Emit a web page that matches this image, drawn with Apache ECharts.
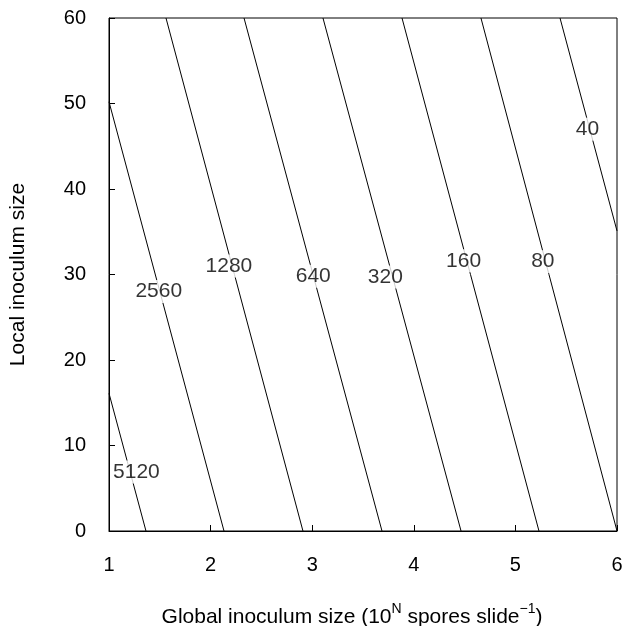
<!DOCTYPE html>
<html>
<head>
<meta charset="utf-8">
<script src="https://cdn.jsdelivr.net/npm/echarts@6/dist/echarts.min.js"></script>
<style>
  html, body { margin: 0; padding: 0; background: #fff; }
  #chart { width: 627px; height: 626px; }
</style>
</head>
<body>
<div id="chart"></div>
<script>
  // contour lines: start / end points
  var contourNames = ['5120', '2560', '1280', '640', '320', '160', '80', '40'];
  var startX = [1, 1, 1.561, 2.329, 3.106, 3.884, 4.661, 5.439];
  var startY = [16.1, 50.2, 60, 60, 60, 60, 60, 60];
  var endX = [1.364, 2.132, 2.909, 3.687, 4.465, 5.232, 6, 6];
  var endY = [0, 0, 0, 0, 0, 0, 0, 35.1];

  // label positions on each contour
  var labelX = [1.27, 1.49, 2.18, 3.01, 3.72, 4.49, 5.27, 5.71];
  var labelY = [6.9, 28.0, 31.0, 29.8, 29.7, 31.6, 31.5, 47.0];

  var xTicks = [1, 2, 3, 4, 5, 6];
  var yTicks = [0, 10, 20, 30, 40, 50, 60];

  var font = 'Liberation Sans, Arial, Helvetica, sans-serif';

  var series = [];
  for (var i = 0; i < contourNames.length; i++) {
    series.push({
      name: contourNames[i],
      type: 'line',
      symbol: 'none',
      silent: true,
      lineStyle: { color: '#000', width: 1 },
      data: [[startX[i], startY[i]], [endX[i], endY[i]]],
      z: 2
    });
  }
  // contour labels (white box cuts the line)
  series.push({
    type: 'scatter',
    symbolSize: 0,
    silent: true,
    z: 5,
    data: contourNames.map(function (n, i) {
      return { name: n, value: [labelX[i], labelY[i]] };
    }),
    label: {
      show: true,
      position: 'inside',
      formatter: '{b}',
      color: '#000',
      fontSize: 21,
      fontFamily: font,
      backgroundColor: '#fff',
      padding: [1, 1]
    }
  });

  var myChart = echarts.init(document.getElementById('chart'));
  var myOption = {
    animation: false,
    backgroundColor: '#fff',
    grid: {
      left: 109,
      right: 10,
      top: 18,
      bottom: 95,
      containLabel: false,
      outerBoundsMode: 'none',
      show: true,
      borderColor: '#000',
      borderWidth: 1
    },
    xAxis: {
      type: 'value',
      min: xTicks[0],
      max: xTicks[xTicks.length - 1],
      interval: 1,
      name: '{a|Global inoculum size (10}{s|N}{a| spores slide}{s|\u22121}{a|)}',
      nameLocation: 'middle',
      nameGap: 71,
      nameTextStyle: {
        padding: [0, 22, 0, 0],
        rich: {
          a: { fontSize: 21, fontFamily: font, color: '#000', lineHeight: 26, verticalAlign: 'bottom' },
          s: { fontSize: 14, fontFamily: font, color: '#000', lineHeight: 26, verticalAlign: 'top' }
        }
      },
      axisLine: { lineStyle: { color: '#000', width: 1 } },
      axisTick: { inside: true, length: 6, lineStyle: { color: '#000' } },
      axisLabel: { color: '#000', fontSize: 20, fontFamily: font, margin: 24 },
      splitLine: { show: false }
    },
    yAxis: {
      type: 'value',
      min: yTicks[0],
      max: yTicks[yTicks.length - 1],
      interval: 10,
      name: 'Local inoculum size',
      nameLocation: 'middle',
      nameGap: 80,
      nameTextStyle: { color: '#000', fontSize: 21, fontFamily: font },
      axisLine: { lineStyle: { color: '#000', width: 1 } },
      axisTick: { inside: true, length: 6, lineStyle: { color: '#000' } },
      axisLabel: { color: '#000', fontSize: 20, fontFamily: font, margin: 23 },
      splitLine: { show: false }
    },
    series: series
  };
  myChart.setOption(myOption);
</script>
</body>
</html>
